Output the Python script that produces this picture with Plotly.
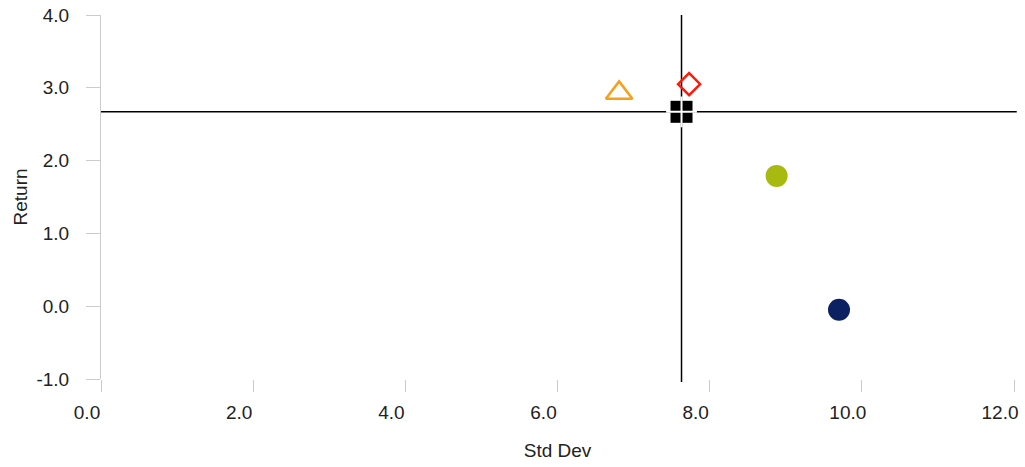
import plotly.graph_objects as go

# Data
names = ["Fund A", "Fund B", "Benchmark", "Fund C", "Fund D"]
std_dev = [6.81, 7.73, 7.63, 8.88, 9.70]
returns = [2.93, 3.05, 2.67, 1.79, -0.05]
symbols = ["triangle-up-open", "diamond-open", "square", "circle", "circle"]
colors = ["#F7A11A", "#FF1A0A", "#000000", "#A8B910", "#0B2161"]
sizes = [23, 17, 22, 22, 22]
x_ticks = [0, 2, 4, 6, 8, 10, 12]
y_ticks = [-1, 0, 1, 2, 3, 4]

bench_x = std_dev[2]
bench_y = returns[2]

fig = go.Figure()

# crosshair through benchmark
fig.add_shape(type="line", xref="x", yref="paper", x0=bench_x, x1=bench_x, y0=-0.008, y1=1,
              line=dict(color="#000000", width=1.5), layer="below")
fig.add_shape(type="line", xref="paper", yref="y", x0=0, x1=1.003, y0=bench_y, y1=bench_y,
              line=dict(color="#000000", width=1.5), layer="below")

for i, n in enumerate(names):
    open_sym = symbols[i].endswith("open")
    fig.add_trace(go.Scatter(
        x=[std_dev[i]], y=[returns[i]], mode="markers", name=n,
        marker=dict(symbol=symbols[i], size=sizes[i], color=colors[i],
                    line=dict(color=colors[i], width=2.5 if open_sym else 0)),
        showlegend=False, cliponaxis=False,
    ))

# white cross over the benchmark square
fig.add_trace(go.Scatter(
    x=[bench_x], y=[bench_y], mode="markers", showlegend=False, hoverinfo="skip",
    marker=dict(symbol="cross-thin-open", size=22, color="#FFFFFF",
                line=dict(color="#FFFFFF", width=2)),
))

fig.update_layout(
    width=1025, height=467,
    margin=dict(l=101, r=11, t=15, b=88, autoexpand=False),
    plot_bgcolor="#FFFFFF", paper_bgcolor="#FFFFFF",
    font=dict(family="Liberation Sans, Arial, sans-serif", size=19, color="#222222"),
)
fig.update_xaxes(
    range=[0, 12], tickvals=x_ticks, ticktext=[f"{v:.1f}" for v in x_ticks],
    showgrid=False, zeroline=False, showline=False, automargin=False,
    ticks="outside", ticklen=12, tickcolor="#CCCCCC", tickwidth=1,
    ticklabelshift=-14, ticklabelstandoff=4, ticklabeloverflow="allow",
    tickfont=dict(size=19, color="#222222"),
    title=dict(text="Std Dev", font=dict(size=19, color="#222222"), standoff=21),
)
fig.update_yaxes(
    range=[-1, 4], tickvals=y_ticks, ticktext=[f"{v:.1f}" for v in y_ticks],
    showgrid=False, zeroline=False, showline=True, linecolor="#CCCCCC", linewidth=1,
    automargin=False,
    ticks="outside", ticklen=14, tickcolor="#CCCCCC", tickwidth=1,
    ticklabelstandoff=13, ticklabeloverflow="allow",
    tickfont=dict(size=19, color="#222222"),
    title=dict(text="Return", font=dict(size=19, color="#222222"), standoff=3),
)

# remove the browser's default 8px page margin so the figure fills the window
fig.write_html("out.html",
               config={"displayModeBar": False},
               post_script="document.body.style.margin='0px';document.body.style.overflow='hidden';")
